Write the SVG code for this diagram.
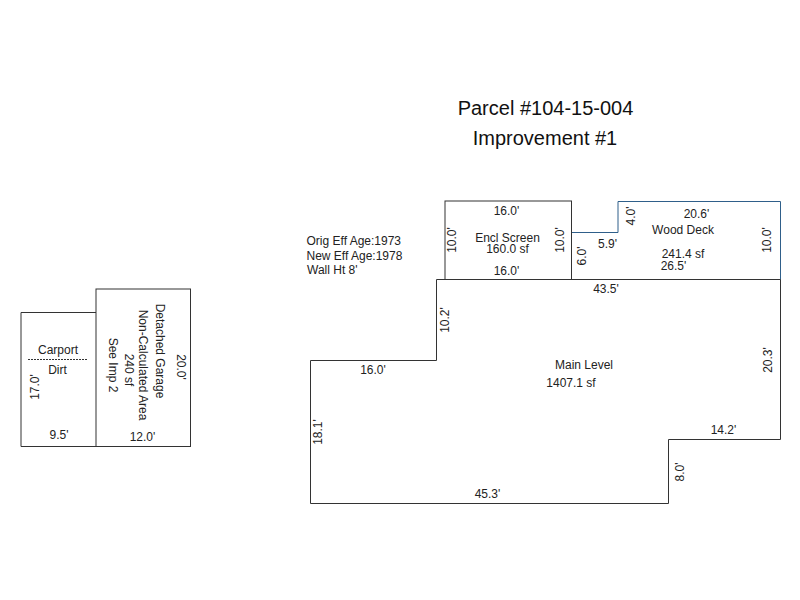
<svg xmlns="http://www.w3.org/2000/svg" width="800" height="600" viewBox="0 0 800 600">
<style>
text{font-family:"Liberation Sans",Arial,sans-serif;font-size:12px;fill:#222;text-anchor:middle}
.title{font-size:20px;fill:#111}
.l{text-anchor:start}
.wall{fill:none;stroke:#333;stroke-width:1}
.deck{fill:none;stroke:#2f5f8a;stroke-width:1}
</style>
<rect width="800" height="600" fill="#fff"/>
<g id="title">
<text class="title" x="545.5" y="114.500">Parcel #104-15-004</text>
<text class="title" x="545" y="145">Improvement #1</text>
</g>
<g id="notes">
<text class="l" x="306.500" y="245">Orig Eff Age:1973</text>
<text class="l" x="306.500" y="260">New Eff Age:1978</text>
<text class="l" x="307" y="274">Wall Ht 8'</text>
</g>
<g id="wood-deck">
<path class="deck" d="M571.500 279.500V232.500H618V201.500H780.500V279.500Z"/>
<text x="696.500" y="218">20.6'</text>
<text x="683" y="234">Wood Deck</text>
<text x="683" y="258">241.4 sf</text>
<text x="673.500" y="270">26.5'</text>
<text x="607.500" y="248">5.9'</text>
<text transform="translate(635 216) rotate(-90)">4.0'</text>
<text transform="translate(586 256) rotate(-90)">6.0'</text>
<text transform="translate(771 240) rotate(-90)">10.0'</text>
</g>
<g id="encl-screen">
<rect class="wall" x="445" y="201" width="126.500" height="78.500"/>
<text x="506.500" y="215">16.0'</text>
<text x="507.500" y="242">Encl Screen</text>
<text x="507.500" y="253">160.0 sf</text>
<text x="506.500" y="275">16.0'</text>
<text transform="translate(456 240) rotate(-90)">10.0'</text>
<text transform="translate(564 240) rotate(-90)">10.0'</text>
</g>
<g id="main-level">
<path class="wall" d="M436.500 279.500H780.500V439.500H668.500V503.500H310.500V360.500H436.500Z"/>
<text x="606" y="293">43.5'</text>
<text x="584" y="369">Main Level</text>
<text x="571" y="387" style="text-anchor:middle" dx="0">1407.1 sf</text>
<text x="373" y="374">16.0'</text>
<text x="723.500" y="434">14.2'</text>
<text x="487.500" y="498">45.3'</text>
<text transform="translate(449 320) rotate(-90)">10.2'</text>
<text transform="translate(772 360) rotate(-90)">20.3'</text>
<text transform="translate(322 432) rotate(-90)">18.1'</text>
<text transform="translate(684 472) rotate(-90)">8.0'</text>
</g>
<g id="carport">
<path class="wall" d="M96 312.500H21V446.500H96"/>
<text x="58" y="354">Carport</text>
<path d="M28 359.500H87" fill="none" stroke="#333" stroke-dasharray="2 1"/>
<text x="57.500" y="374">Dirt</text>
<text transform="translate(39 387) rotate(-90)">17.0'</text>
<text x="59" y="439">9.5'</text>
</g>
<g id="detached-garage">
<rect class="wall" x="96" y="289" width="94.500" height="157.500"/>
<text transform="translate(156 351) rotate(90)">Detached Garage</text>
<text transform="translate(139 365) rotate(90)">Non-Calculated Area</text>
<text transform="translate(125 370) rotate(90)">240 sf</text>
<text transform="translate(109 365) rotate(90)">See Imp 2</text>
<text transform="translate(177 367) rotate(90)">20.0'</text>
<text x="142.500" y="441">12.0'</text>
</g>
</svg>
